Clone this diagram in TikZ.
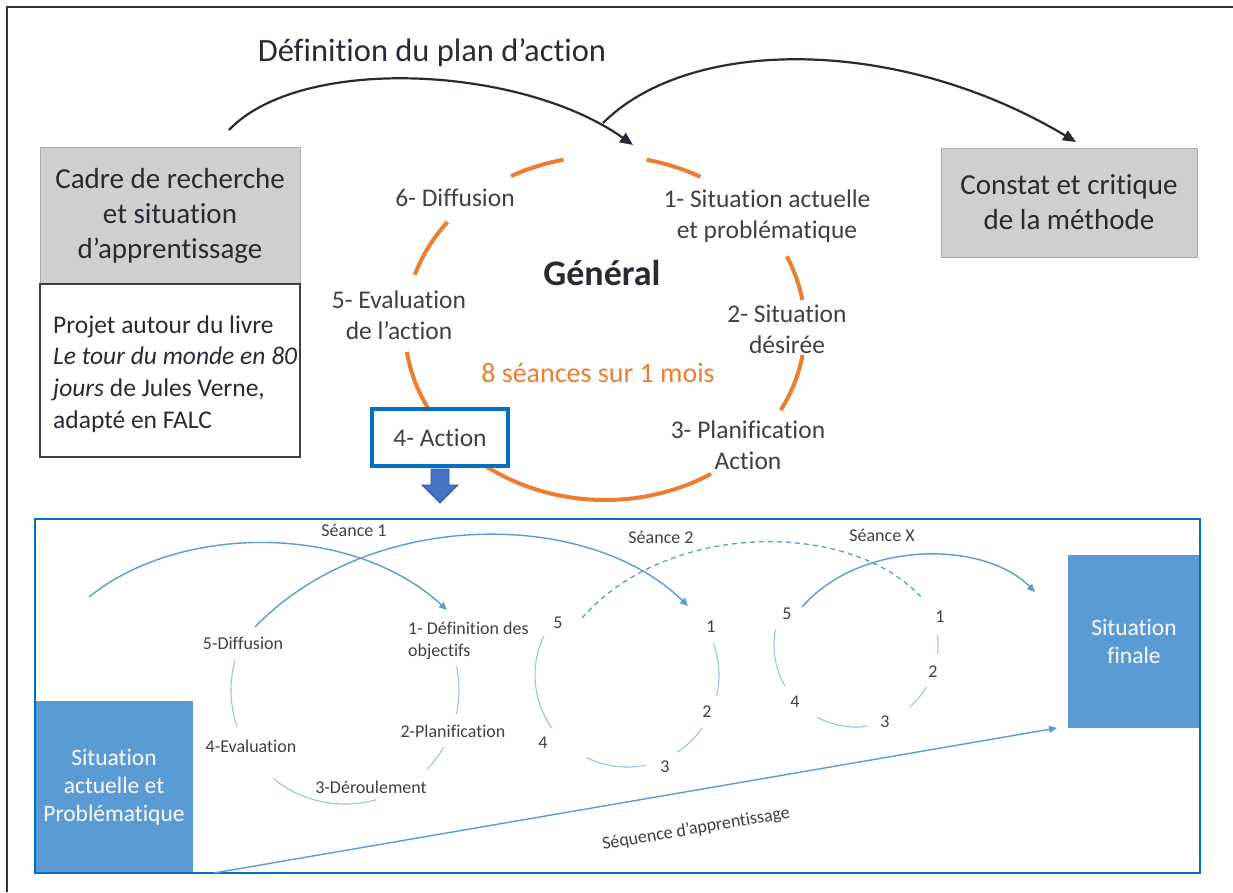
\documentclass[tikz,border=0pt]{standalone}
\usepackage{fontspec}
\setmainfont{Carlito}[Ligatures=NoCommon]
\usetikzlibrary{arrows.meta,calc}
\definecolor{txt}{HTML}{404040}
\definecolor{dark}{HTML}{262B36}
\definecolor{orng}{HTML}{ED7D31}
\definecolor{boxgray}{HTML}{D0CECE}
\definecolor{boxedge}{HTML}{AFABAB}
\definecolor{bblue}{HTML}{0070C0}
\definecolor{mblue}{HTML}{5B9BD5}
\definecolor{lblue}{HTML}{9DC3E6}
\definecolor{arrblue}{HTML}{4472C4}
\newcommand\myarc[7][]{\draw[#1] ({#2+#4*cos(#6)},{#3+#5*sin(#6)}) arc[start angle=#6,end angle=#7,x radius=#4,y radius=#5];}
\tikzset{
  bigtitle/.style={font=\fontsize{32.5}{38}\selectfont, text=dark, inner sep=0pt},
  graybox/.style={draw=boxedge, line width=1pt, fill=boxgray, align=center, text=dark,
    font=\fontsize{29}{35}\selectfont, inner sep=0pt},
  lbl/.style={font=\fontsize{25.5}{31}\selectfont, text=txt, align=center, inner sep=0pt},
  slbl/.style={font=\fontsize{18}{22}\selectfont, text=txt, align=center, inner sep=0pt},
  bluebox/.style={fill=mblue, text=white, align=center, font=\fontsize{23.5}{28}\selectfont, inner sep=0pt},
  orarc/.style={draw=orng, line width=4pt},
  blk/.style={draw=dark, line width=2.2pt, -{Triangle[length=13pt,width=11pt]}},
  thinarc/.style={draw=lblue, line width=1.1pt},
  conn/.style={draw=mblue, line width=1.4pt, -{Triangle[length=8pt,width=7pt]}},
}
\begin{document}
\begin{tikzpicture}[x=1pt,y=-1pt]
\useasboundingbox (0,0) rectangle (1233,892);
\fill[white] (0,0) rectangle (1233,892);
\draw[line width=1.5pt, black!80] (7,892) -- (7,7) -- (1233,7);

% ---------- top part ----------
\node[bigtitle] (title) at (432,53) {Définition du plan d’action};
\coordinate (a1s) at (229,130);
\coordinate (a1e) at (633,145);
\draw[blk] (a1s) .. controls (300,55) and (520,65) .. (a1e);
\coordinate (a2s) at (603,123);
\coordinate (a2e) at (1076,142);
\draw[blk] (a2s) .. controls (690,36) and (899,36) .. (a2e);

\node[graybox, minimum width=260pt, minimum height=137pt] (cadre) at (170,215.5)
  {Cadre de recherche\\et situation\\d’apprentissage};
\node[draw=txt, line width=1.3pt, fill=white, minimum width=260pt, minimum height=173pt, inner sep=0pt] (projbox) at (170,370.5) {};
\node[anchor=west, align=left, text=dark, inner sep=0pt, font=\fontsize{25.5}{31.7}\selectfont] (projet) at (53,374)
  {Projet autour du livre\\\textit{Le tour du monde en 80}\\\textit{jours} de Jules Verne,\\adapté en FALC};
\node[graybox, minimum width=256pt, minimum height=109pt] (constat) at (1069,202.5)
  {Constat et critique\\de la méthode};

% orange cycle
\myarc[orarc]{605}{328}{200}{172}{-102}{-118}
\myarc[orarc]{605}{328}{200}{172}{-61.5}{-78}
\myarc[orarc]{605}{328}{200}{172}{-142}{-162}
\myarc[orarc]{605}{328}{200}{172}{-188}{-302}
\myarc[orarc]{605}{328}{200}{172}{-9.4}{-24.6}
\myarc[orarc]{605}{328}{200}{172}{9}{28.5}

\node[lbl] (l6) at (455,198) {6- Diffusion};
\node[lbl] (l1) at (767,216) {1- Situation actuelle\\et problématique};
\node[lbl] (l2) at (787,329) {2- Situation\\désirée};
\node[lbl] (l3) at (748,445) {3- Planification\\Action};
\node[lbl] (l5) at (399,315) {5- Evaluation\\de l’action};
\node[font=\fontsize{36}{42}\bfseries, text=dark, inner sep=0pt] (gen) at (602,273) {Général};
\node[font=\fontsize{28}{32}\selectfont, text=orng, inner sep=0pt] (seances) at (598,373) {8 séances sur 1 mois};
\node[lbl, draw=bblue, line width=4pt, fill=white, minimum width=136pt, minimum height=57pt] (act) at (440,437.5) {4- Action};
\draw[fill=arrblue, draw=arrblue!75!black, line width=0.8pt]
  ($(act.south)+(-9,1)$) -- ++(18,0) -- ++(0,16) -- ++(9,0) -- ++(-18,18) -- ++(-18,-18) -- ++(9,0) -- cycle;

% ---------- bottom panel ----------
\node[bluebox, minimum width=158pt, minimum height=172pt] (sa) at (114,787)
  {Situation\\actuelle et\\Problématique};
\node[bluebox, minimum width=132pt, minimum height=173pt] (sf) at (1134,641.5)
  {Situation\\finale};
\draw[bblue, line width=1.6pt] (35,519) rectangle (1200,873);

\coordinate (seqs) at (214,873);
\coordinate (seqe) at (1057,728);
\draw[conn] (seqs) -- (seqe);
\node[slbl, rotate=9.8] (seq) at (696,829) {Séquence d’apprentissage};

% seance 1 circle
\myarc[thinarc]{345}{690}{114}{114}{-165}{-199}
\myarc[thinarc]{345}{690}{114}{114}{-231}{-286}
\myarc[thinarc]{345}{690}{114}{114}{44}{30}
\myarc[thinarc]{345}{690}{114}{114}{-12}{12}
\node[slbl] (s1t) at (354,530) {Séance 1};
\node[slbl] (s1a) at (243,643) {5-Diffusion};
\node[slbl, anchor=west, align=left] (s1b) at (408,640.5) {1- Définition des\\objectifs};
\node[slbl] (s1c) at (453,731) {2-Planification};
\node[slbl] (s1d) at (251,746) {4-Evaluation};
\node[slbl] (s1e) at (371,787) {3-Déroulement};

% seance 2 circle
\myarc[thinarc]{627}{675}{92}{92}{-155}{-215}
\myarc[thinarc]{627}{675}{92}{92}{-244}{-282}
\myarc[thinarc]{627}{675}{92}{92}{57}{35}
\myarc[thinarc]{627}{675}{92}{92}{13}{-20}
\node[slbl] (s2t) at (661,537) {Séance 2};
\node[slbl] (s2a) at (558,623) {5};
\node[slbl] (s2b) at (711,627) {1};
\node[slbl] (s2c) at (707,712) {2};
\node[slbl] (s2d) at (665,767) {3};
\node[slbl] (s2e) at (543,743) {4};

% seance X circle
\myarc[thinarc]{856}{645}{82}{82}{-169}{-210}
\myarc[thinarc]{856}{645}{82}{82}{-242}{-278}
\myarc[thinarc]{856}{645}{82}{82}{49}{31}
\myarc[thinarc]{856}{645}{82}{82}{6}{-7}
\node[slbl] (sxt) at (882,535) {Séance X};
\node[slbl] (sxa) at (787,614) {5};
\node[slbl] (sxb) at (940,617) {1};
\node[slbl] (sxc) at (933,672) {2};
\node[slbl] (sxd) at (885,722) {3};
\node[slbl] (sxe) at (795,702) {4};

% connectors between sessions
\coordinate (c0) at (89,597);
\coordinate (c0e) at (447,610);
\draw[conn] (c0) .. controls (180,523) and (353,523) .. (c0e);
\coordinate (c1) at (255,627);
\coordinate (c1e) at (688,606);
\draw[conn] (c1) .. controls (370,508) and (588,508) .. (c1e);
\coordinate (c2) at (582,618);
\coordinate (c2e) at (921,597);
\draw[mblue, line width=1.3pt, dash pattern=on 5pt off 4pt] (c2) .. controls (668,520) and (850,520) .. (c2e);
\coordinate (c3) at (802,607);
\coordinate (c3e) at (1035,592);
\draw[conn] (c3) .. controls (860,540) and (984,540) .. (c3e);
\end{tikzpicture}
\end{document}
